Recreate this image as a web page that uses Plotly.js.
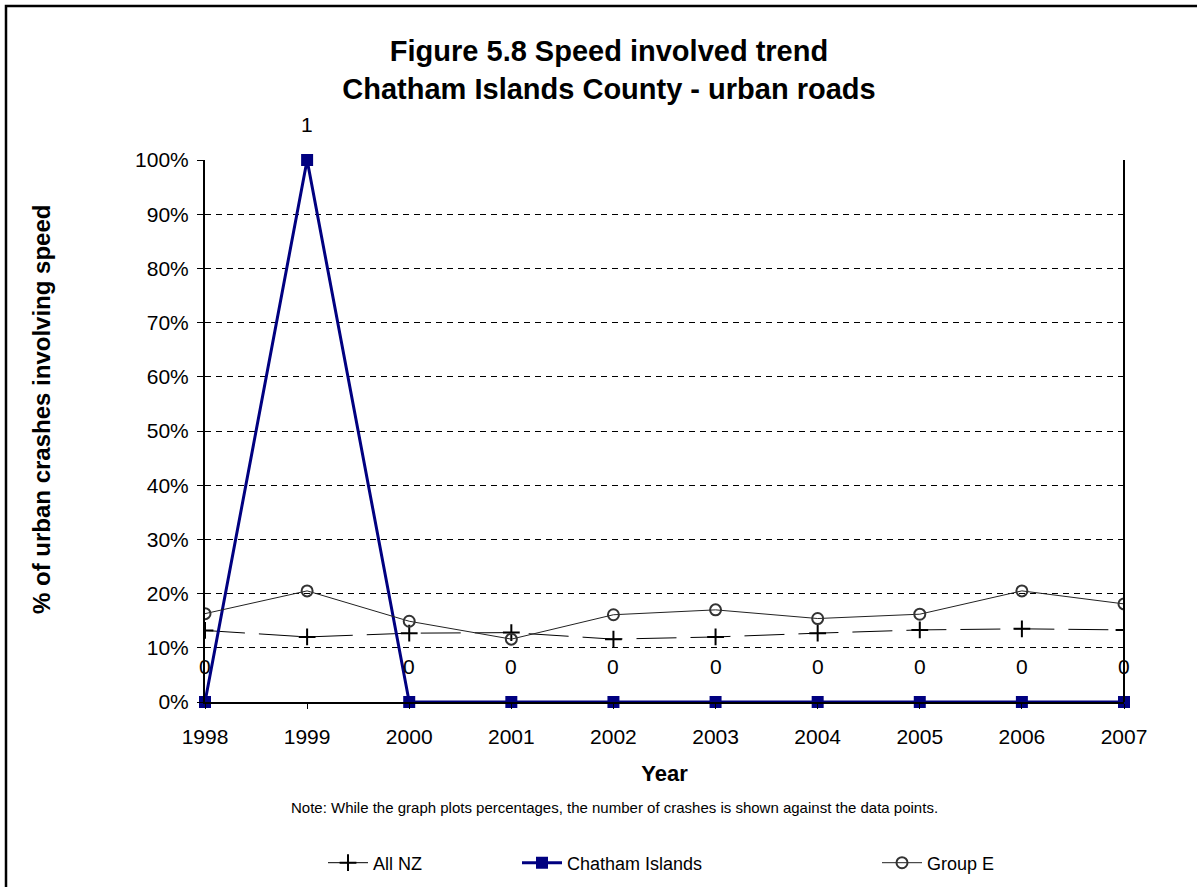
<!DOCTYPE html>
<html>
<head>
<meta charset="utf-8">
<script src="https://cdn.plot.ly/plotly-3.0.1.min.js"></script>
<style>html,body{margin:0;padding:0;background:#fff;}#chart{width:1197px;height:887px;}</style>
</head>
<body>
<div id="chart"></div>
<script>
const years = [1998, 1999, 2000, 2001, 2002, 2003, 2004, 2005, 2006, 2007];
const allNZ = [0.132, 0.120, 0.127, 0.128, 0.116, 0.120, 0.127, 0.133, 0.135, 0.133];
const chatham = [0, 1, 0, 0, 0, 0, 0, 0, 0, 0];
const groupE = [0.163, 0.205, 0.149, 0.116, 0.161, 0.170, 0.154, 0.162, 0.205, 0.181];
const chathamCounts = [0, 1, 0, 0, 0, 0, 0, 0, 0, 0];
const yTickVals = [0, 0.1, 0.2, 0.3, 0.4, 0.5, 0.6, 0.7, 0.8, 0.9, 1.0];
const yTickText = ['0%', '10%', '20%', '30%', '40%', '50%', '60%', '70%', '80%', '90%', '100%'];

const FONT = 'Liberation Sans, Arial, sans-serif';

// plot area pixel geometry
const L = 205, R = 1124, T = 160, B = 702;
const px = v => (v - L) / (R - L);
const py = v => (B - v) / (B - T);

const traces = [
  {
    x: years, y: allNZ, name: 'All NZ', mode: 'lines+markers',
    line: {color: '#000', width: 1, dash: '40px,14px'},
    marker: {symbol: 'cross-thin', size: 12, line: {color: '#000', width: 2}},
    legend: 'legend'
  },
  {
    x: years, y: chatham, name: 'Chatham Islands', mode: 'lines+markers',
    line: {color: '#000080', width: 3},
    marker: {symbol: 'square', size: 12, color: '#000080'},
    legend: 'legend2', cliponaxis: false
  },
  {
    x: years, y: groupE, name: 'Group E', mode: 'lines+markers',
    line: {color: '#222', width: 1},
    marker: {symbol: 'circle-open', size: 11, color: '#333', line: {width: 2, color: '#333'}},
    legend: 'legend3'
  }
];

const annotations = years.map((yr, i) => ({
  x: yr, y: chatham[i], xref: 'x', yref: 'y', text: String(chathamCounts[i]),
  showarrow: false, yshift: 36, font: {family: FONT, size: 21, color: '#000'}
}));
annotations.push({
  xref: 'paper', yref: 'paper', x: px(614), y: py(807), xanchor: 'center', yanchor: 'middle',
  text: 'Note: While the graph plots percentages, the number of crashes is shown against the data points.',
  showarrow: false, font: {family: FONT, size: 15, color: '#000'}
});
annotations.push({
  xref: 'paper', yref: 'paper', x: px(41), y: py(410), xanchor: 'center', yanchor: 'middle',
  text: '<b>% of urban crashes involving speed</b>', textangle: -90,
  showarrow: false, font: {family: FONT, size: 24, color: '#000'}
});

const legendCommon = (xp) => ({
  orientation: 'h', x: px(xp), y: py(863), xanchor: 'left', yanchor: 'middle',
  font: {family: FONT, size: 18, color: '#000'}, bgcolor: 'rgba(0,0,0,0)', itemwidth: 40
});

const layout = {
  width: 1197, height: 887,
  margin: {l: L, r: 1197 - R, t: T, b: 887 - B, pad: 0, autoexpand: false},
  paper_bgcolor: '#fff', plot_bgcolor: '#fff',
  font: {family: FONT, color: '#000'},
  title: {
    text: '<b>Figure 5.8 Speed involved trend<br>Chatham Islands County - urban roads</b>',
    x: px(609), xref: 'paper', xanchor: 'center', y: 0.931, yanchor: 'top',
    font: {family: FONT, size: 29, color: '#000'}
  },
  xaxis: {
    range: [1998, 2007], tickvals: years, ticktext: years.map(String),
    showgrid: false, zeroline: false, showline: true, linecolor: '#000', linewidth: 2,
    ticks: 'outside', ticklen: 5, tickcolor: '#000', ticklabelstandoff: 10,
    tickfont: {family: FONT, size: 21, color: '#000'},
    title: {text: '<b>Year</b>', font: {family: FONT, size: 22, color: '#000'}, standoff: 18}
  },
  yaxis: {
    range: [0, 1], tickvals: yTickVals, ticktext: yTickText,
    showgrid: true, gridcolor: '#000', griddash: '6px,5px', gridwidth: 1,
    zeroline: false, showline: true, linecolor: '#000', linewidth: 2,
    ticks: 'outside', ticklen: 6, tickcolor: '#000', ticklabelstandoff: 4,
    tickfont: {family: FONT, size: 21, color: '#000'}
  },
  showlegend: true,
  legend: legendCommon(323),
  legend2: legendCommon(517),
  legend3: legendCommon(877),
  annotations: annotations,
  shapes: [
    {type: 'line', xref: 'paper', yref: 'paper', x0: 1, x1: 1, y0: 0, y1: 1, line: {color: '#000', width: 2}},
    {type: 'rect', xref: 'paper', yref: 'paper', x0: px(6), y0: py(950), x1: px(1260), y1: py(6), line: {color: '#000', width: 2.5}, layer: 'below'}
  ]
};

Plotly.newPlot('chart', traces, layout, {displayModeBar: false, staticPlot: true});
</script>
</body>
</html>
